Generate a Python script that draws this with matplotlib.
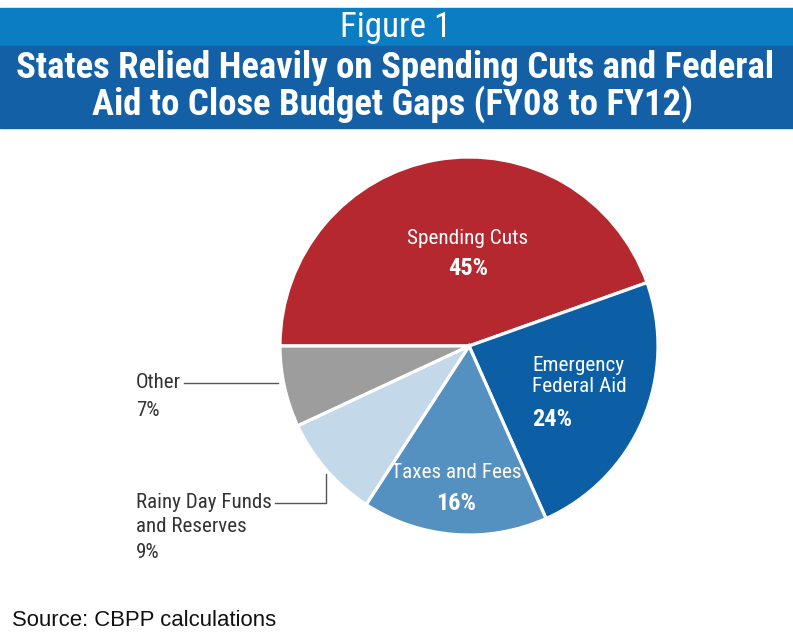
import matplotlib
matplotlib.use("Agg")
import matplotlib.pyplot as plt
from matplotlib import font_manager
from matplotlib.font_manager import FontProperties

W, H = 793, 639

# budget gap closing sources, FY08-FY12 (percent)
labels = ["Spending Cuts", "Emergency\nFederal Aid", "Taxes and Fees",
          "Rainy Day Funds\nand Reserves", "Other"]
shares = [45, 24, 16, 9, 7]
colors = ["#B5282F", "#0C5FA5", "#5491C1", "#C3D8E9", "#9D9D9D"]

fig_title = "Figure 1"
title_lines = ["States Relied Heavily on Spending Cuts and Federal",
               "Aid to Close Budget Gaps (FY08 to FY12)"]
source = "Source: CBPP calculations"


def as_weight(w):
    if isinstance(w, str):
        return font_manager.weight_dict.get(w.lower(), 400)
    return int(w)


def narrow_font(bold):
    # look for an installed condensed face, fall back to DejaVu Sans
    order = ["Liberation Sans Narrow", "Roboto Condensed", "Open Sans Condensed",
             "Noto Sans", "Noto Sans Condensed", "DejaVu Sans", "DejaVu Sans Condensed"]
    target = 700 if bold else 400
    best = None
    for f in font_manager.fontManager.ttflist:
        if f.stretch != "condensed" or f.style != "normal":
            continue
        if "Mono" in f.name or "Serif" in f.name or "CJK" in f.name:
            continue
        rank = order.index(f.name) if f.name in order else len(order)
        key = (rank, abs(as_weight(f.weight) - target))
        if best is None or key < best[0]:
            best = (key, f.fname)
    if best is None:
        return FontProperties(family="DejaVu Sans", weight="bold" if bold else "normal")
    return FontProperties(fname=best[1])


reg = narrow_font(False)
bold = narrow_font(True)

fig = plt.figure(figsize=(W / 100, H / 100), dpi=100)
renderer = fig.canvas.get_renderer()


def px(x, y):
    return x / W, 1 - y / H


def fit(t, width, grow=1.0):
    # scale a text so it spans the given width in pixels
    t.set_fontsize(14)
    w = t.get_window_extent(renderer).width
    t.set_fontsize(14 * width / w * grow)
    return t.get_fontsize()


# header bands
fig.patches.append(plt.Rectangle(px(0, 46), 1, 38 / H, transform=fig.transFigure,
                                 color="#0A7DC3", zorder=0))
fig.patches.append(plt.Rectangle(px(0, 128), 1, 82 / H, transform=fig.transFigure,
                                 color="#1360A6", zorder=0))
t = fig.text(*px(396, 27), fig_title, color="white", fontproperties=reg,
             ha="center", va="center")
fit(t, 112)
t1 = fig.text(*px(395, 68), title_lines[0], color="white", fontproperties=bold,
              ha="center", va="center")
size = fit(t1, 765)
t2 = fig.text(*px(393, 104), title_lines[1], color="white", fontproperties=bold,
              ha="center", va="center")
t2.set_fontsize(size)

# pie
cx, cy, r = 469, 346, 189
ax = fig.add_axes([(cx - r) / W, 1 - (cy + r) / H, 2 * r / W, 2 * r / H])
ax.pie(shares, colors=colors, startangle=180, counterclock=False,
       wedgeprops=dict(edgecolor="white", linewidth=2.3))
ax.set_xlim(-1, 1)
ax.set_ylim(-1, 1)
ax.set_aspect("equal")
ax.axis("off")

# labels inside the slices
t = fig.text(*px(468, 238), labels[0], color="white", fontproperties=reg,
             ha="center", va="center")
lab_size = fit(t, 109, 1.12)
t = fig.text(*px(468, 268), f"{shares[0]}%", color="white", fontproperties=bold,
             ha="center", va="center")
pct_size = fit(t, 38, 1.05)

inner = [
    (532, 376, labels[1], reg, "left"),
    (532, 420, f"{shares[1]}%", bold, "left"),
    (456, 473, labels[2], reg, "center"),
    (456, 503, f"{shares[2]}%", bold, "center"),
]
for x, y, s, fp, ha in inner:
    t = fig.text(*px(x, y), s, color="white", fontproperties=fp, ha=ha,
                 va="center", linespacing=1.15)
    t.set_fontsize(pct_size if fp is bold else lab_size)

# outside labels with leader lines
t = fig.text(*px(136, 503), labels[3].split("\n")[0], color="#333333",
             fontproperties=reg, ha="left", va="center")
out_size = fit(t, 124, 1.1)
outside = [
    (136, 527, labels[3].split("\n")[1]),
    (136, 552, f"{shares[3]}%"),
    (136, 383, labels[4]),
    (136, 411, f"{shares[4]}%"),
]
for x, y, s in outside:
    t = fig.text(*px(x, y), s, color="#333333", fontproperties=reg,
                 ha="left", va="center")
    t.set_fontsize(out_size)

line_kw = dict(color="#555555", lw=1, transform=fig.transFigure)
fig.lines.append(plt.Line2D([184 / W, 278 / W], [1 - 383 / H] * 2, **line_kw))
fig.lines.append(plt.Line2D([275 / W, 326 / W, 326 / W],
                            [1 - 503 / H, 1 - 503 / H, 1 - 474 / H], **line_kw))

t = fig.text(*px(12, 620), source, color="#111111",
             family="Liberation Sans", ha="left", va="center")
fit(t, 265)

fig.savefig("out.png", dpi=100)
